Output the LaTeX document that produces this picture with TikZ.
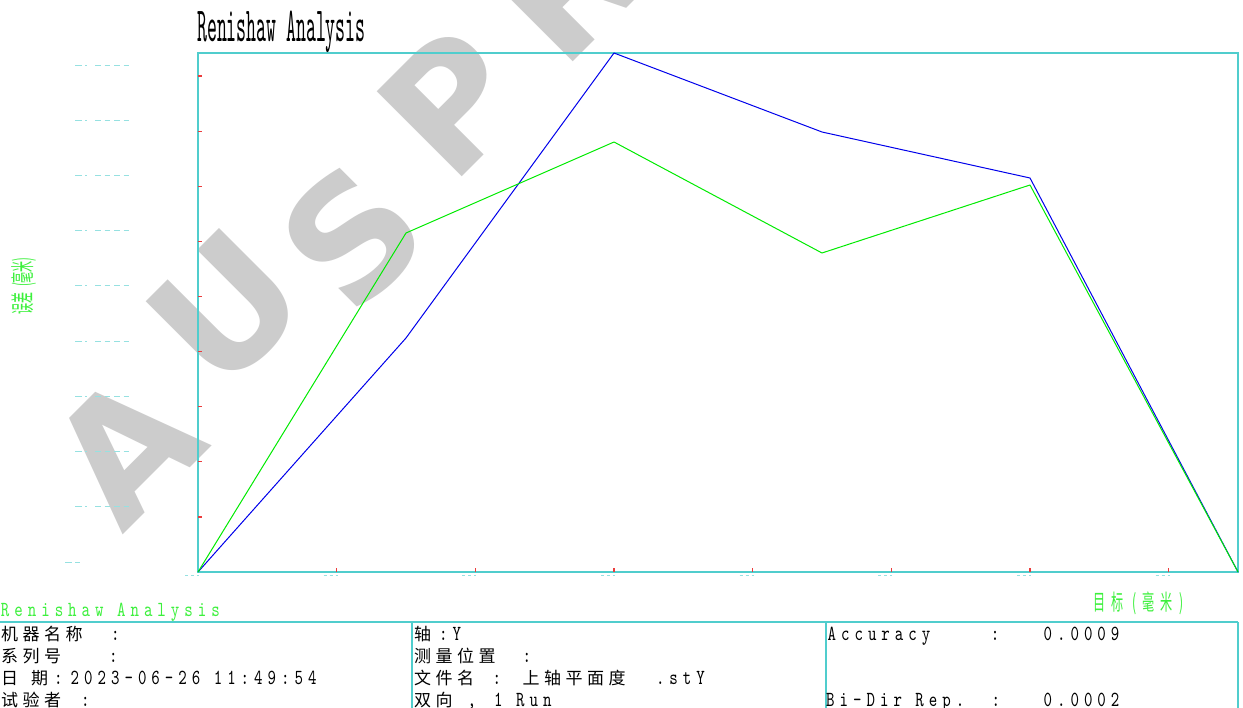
\documentclass[tikz,border=0pt]{standalone}
\usepackage{fontspec}
\usepackage{graphicx}
\newfontfamily\cjkfam[LetterSpace=26.5]{Noto Sans CJK SC}
\newfontfamily\cjkwide[LetterSpace=50]{Noto Sans CJK SC}
\newfontfamily\cjkplain{Noto Sans CJK SC}
\newfontfamily\monofam[LetterSpace=31]{lmmono10-regular.otf}
\newfontfamily\titlefam{lmmono10-regular.otf}
\newfontfamily\wmfam{DejaVu Sans}

\definecolor{framecyan}{RGB}{80,205,205}
\definecolor{labcyan}{RGB}{150,225,225}
\definecolor{tickred}{RGB}{235,60,60}
\definecolor{plotgreen}{RGB}{0,235,0}
\definecolor{plotblue}{RGB}{0,0,235}
\definecolor{textgreen}{RGB}{60,240,60}
\definecolor{wmgray}{RGB}{204,204,204}

\newcommand{\cj}[1]{{\cjkfam\fontsize{17}{17}\selectfont #1}}
\newcommand{\la}[1]{\scalebox{0.75}[1]{\monofam\fontsize{21.5}{21.5}\selectfont #1}}
\newcommand{\gap}{\hspace*{17.96pt}}

\begin{document}
\begin{tikzpicture}[x=1pt, y=-1pt,
    txt/.style={anchor=base west, inner sep=0pt},
    wmark/.style={text=wmgray, rotate=45, inner sep=0pt,
      font=\wmfam\bfseries\fontsize{165}{165}\selectfont},
    frameline/.style={draw=framecyan, line width=1.5pt},
    tableline/.style={draw=framecyan, line width=1.2pt},
    tickmark/.style={draw=tickred, line width=1.2pt},
    labmark/.style={draw=labcyan, line width=1pt},
    dataline/.style={line width=1pt, line join=round}]
  \useasboundingbox (0,0) rectangle (1243,708);
  \clip (0,0) rectangle (1243,708);
  \fill[white] (0,0) rectangle (1243,708);

  % watermark
  \foreach \ch/\px/\py [count=\i] in {A/125/448, U/226/308, S/352/236, P/452/102, R/565/-15}
    \node[wmark] (wm\i) at (\px,\py) {\ch};

  % faint axis labels
  \foreach \k in {1,...,9} {
    \pgfmathsetmacro{\yy}{572-55.1*\k-10.5}
    \draw[labmark] (75,\yy) -- (82,\yy) (85,\yy) -- (87,\yy);
    \draw[labmark, dash pattern=on 5.5pt off 4pt] (95,\yy) -- (130,\yy);
  }
  \draw[labmark] (65,562) -- (72,562) (75,562) -- (80,562);
  \foreach \k in {0,...,7} {
    \pgfmathsetmacro{\xx}{198+138.67*\k}
    \draw[labmark, dash pattern=on 3pt off 3pt] (\xx-13,575.5) -- (\xx+1,575.5);
  }

  % frame and ticks
  \draw[frameline] (198,53) rectangle (1238,572);
  \foreach \k in {1,...,9}
    \draw[tickmark] (198,572-55.1*\k) -- (201.5,572-55.1*\k);
  \foreach \k in {1,...,7}
    \draw[tickmark] (198+138.67*\k,568) -- (198+138.67*\k,572);

  % data
  \foreach \n/\px/\py in {0/198/572, 1/406/338, 2/614/53, 3/822/132, 4/1030/178, 5/1238/572}
    \coordinate (b\n) at (\px,\py);
  \foreach \n/\px/\py in {0/198/572, 1/406/233, 2/614/142, 3/822/253, 4/1030/185, 5/1238/572}
    \coordinate (g\n) at (\px,\py);
  \draw[dataline, plotblue] (b0) -- (b1) -- (b2) -- (b3) -- (b4) -- (b5);
  \draw[dataline, plotgreen] (g0) -- (g1) -- (g2) -- (g3) -- (g4) -- (g5);

  % titles
  \node[txt] (title) at (197,42) {\scalebox{0.385}[1]{\titlefam\fontsize{49}{49}\selectfont Renishaw Analysis}};
  \node[txt, text=textgreen] (sub) at (0.7,616.5) {\la{Renishaw\gap Analysis}};
  \node[txt, text=textgreen] (xlab) at (1093.4,610.5) {\scalebox{0.55}[1]{\cjkwide\fontsize{22}{22}\selectfont 目标 (毫米)}};
  \node[rotate=90, inner sep=0pt, text=textgreen] (ylab) at (23.5,286) {\scalebox{0.46}[1]{\cjkplain\fontsize{24}{24}\selectfont 误差\hspace{12pt}(毫米)}};

  % table
  \draw[tableline] (0,622) -- (1238,622);
  \foreach \xx in {412,826,1238}
    \draw[tableline] (\xx,622) -- (\xx,708);

  \node[txt] (mach) at (1,640) {\cj{机器名称}};
  \node[txt] (machc) at (110.8,640) {\la{:}};
  \node[txt] (ser) at (1,662) {\cj{系列号}};
  \node[txt] (serc) at (108.8,662) {\la{:}};
  \node[txt] (date1) at (1,684) {\cj{日}};
  \node[txt] (date2) at (31,684) {\cj{期}};
  \node[txt] (datec) at (53.8,684) {\la{:}};
  \node[txt] (dateval) at (70.5,684) {\la{2023-06-26\gap 11:49:54}};
  \node[txt] (tester) at (1,706) {\cj{试验者}};
  \node[txt] (testerc) at (80.8,706) {\la{:}};

  \node[txt] (axis) at (414,640) {\cj{轴}};
  \node[txt] (axisval) at (439,640) {\la{:Y}};
  \node[txt] (pos) at (414,662) {\cj{测量位置}};
  \node[txt] (posc) at (522.4,662) {\la{:}};
  \node[txt] (file) at (414,684) {\cj{文件名}};
  \node[txt] (filec) at (492.4,684) {\la{:}};
  \node[txt] (fileval) at (522.5,684) {\cj{上轴平面度}};
  \node[txt] (fileext) at (655.8,684) {\la{.stY}};
  \node[txt] (dir) at (414,706) {\cj{双向}};
  \node[txt] (dirc) at (467.4,706) {\la{,}};
  \node[txt] (run) at (494,706) {\la{1\gap Run}};

  \node[txt] (acc) at (827.4,640) {\la{Accuracy}};
  \node[txt] (accc) at (990.7,640) {\la{:}};
  \node[txt] (accval) at (1043.4,640) {\la{0.0009}};
  \node[txt] (rep) at (826,706) {\la{Bi-Dir\gap Rep.}};
  \node[txt] (repc) at (991.4,706) {\la{:}};
  \node[txt] (repval) at (1043.4,706) {\la{0.0002}};
\end{tikzpicture}
\end{document}
